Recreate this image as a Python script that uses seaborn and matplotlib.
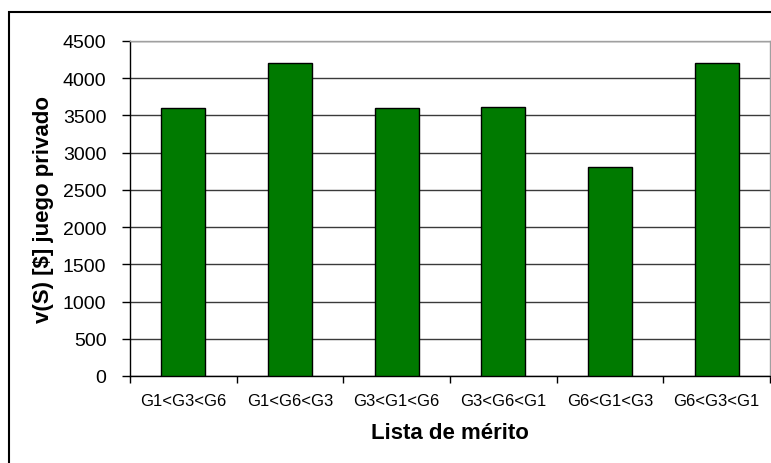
import matplotlib
matplotlib.use("Agg")
import matplotlib.pyplot as plt
from matplotlib.patches import Rectangle
import seaborn as sns
import pandas as pd
import numpy as np

# Merit orderings and private-game value for each
orders = ["G1<G3<G6", "G1<G6<G3", "G3<G1<G6", "G3<G6<G1", "G6<G1<G3", "G6<G3<G1"]
values = [3600, 4200, 3600, 3620, 2810, 4200]
y_ticks = [0, 500, 1000, 1500, 2000, 2500, 3000, 3500, 4000, 4500]

sns.set_theme(style="white")
plt.rcParams["font.family"] = ["Liberation Sans", "DejaVu Sans"]

df = pd.DataFrame({"orden": orders, "valor": values})

fig = plt.figure(figsize=(7.71, 4.64), dpi=100)
ax = fig.add_axes([130 / 771, 1 - 377 / 464, 640 / 771, 335 / 464])

sns.barplot(data=df, x="orden", y="valor", ax=ax, color="#007A00",
            edgecolor="black", linewidth=1.0, width=0.41, saturation=1, zorder=3)

ax.set_ylim(0, 4500)
ax.set_xlim(-0.5, len(orders) - 0.5)
ax.set_yticks(y_ticks)
ax.set_yticklabels([str(t) for t in y_ticks], fontsize=14)
ax.yaxis.grid(True, color="#3a3a3a", linewidth=1.0, zorder=0)
ax.set_axisbelow(True)

# category labels centred under bars, tick marks on category boundaries
ax.set_xticks(range(len(orders)))
ax.set_xticklabels(orders, fontsize=12)
ax.set_xticks(np.arange(-0.5, len(orders), 1.0), minor=True)
ax.tick_params(axis="x", which="major", length=0, pad=12, colors="black")
ax.tick_params(axis="x", which="minor", length=5, width=1, color="black", direction="out", bottom=True)
ax.tick_params(axis="y", which="major", length=6, width=1, color="black", direction="out",
               left=True, pad=11, colors="black")

for side in ("left", "bottom"):
    ax.spines[side].set_color("black")
    ax.spines[side].set_linewidth(1.0)
for side in ("top", "right"):
    ax.spines[side].set_visible(True)
    ax.spines[side].set_color("#a0a0a0")
    ax.spines[side].set_linewidth(1.0)

ax.set_xlabel("Lista de mérito", fontsize=16, fontweight="bold", labelpad=10, color="black")
ax.set_ylabel("v(S) [$] juego privado", fontsize=16, fontweight="bold", labelpad=6, color="black")

# outer chart frame
fig.patches.append(Rectangle((8.5 / 771, -0.1), 1.2, 1 - 12.5 / 464 + 0.1,
                             transform=fig.transFigure, fill=False,
                             edgecolor="black", linewidth=1.5))

fig.savefig("out.png", dpi=100)
